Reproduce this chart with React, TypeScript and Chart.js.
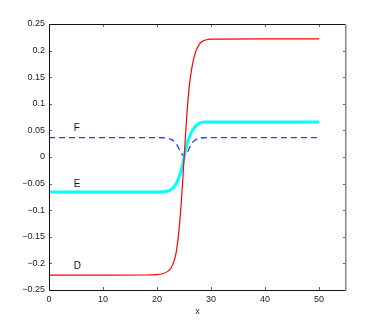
import React, { useEffect, useRef } from 'react';
import { Chart, registerables } from 'chart.js';

Chart.register(...registerables);

// Curve D (red)
const xD = [0, 10, 18, 20, 21, 22, 22.5, 23, 23.5, 24, 24.5, 25, 25.5, 26, 26.5, 27, 27.5, 28, 28.5, 29, 30, 40, 50];
const yD = [-0.222, -0.222, -0.2218, -0.221, -0.2195, -0.215, -0.21, -0.2, -0.182, -0.145, -0.085, -0.005, 0.075, 0.135, 0.17, 0.193, 0.206, 0.214, 0.218, 0.22, 0.2215, 0.222, 0.222];

// Curve E (cyan)
const xE = [0, 10, 20, 21, 22, 22.5, 23, 23.5, 24, 24.5, 25, 25.5, 26, 26.5, 27, 27.5, 28, 28.5, 29, 30, 40, 50];
const yE = [-0.066, -0.066, -0.066, -0.0655, -0.064, -0.062, -0.058, -0.051, -0.04, -0.024, -0.002, 0.022, 0.038, 0.049, 0.056, 0.061, 0.064, 0.0652, 0.0657, 0.066, 0.066, 0.066];

// Curve F (blue dashed)
const xF = [0, 10, 20, 21, 22, 22.5, 23, 23.5, 24, 24.5, 25, 25.5, 26, 26.5, 27, 27.5, 28, 29, 30, 40, 50];
const yF = [0.0366, 0.0366, 0.0366, 0.0362, 0.035, 0.0335, 0.031, 0.0255, 0.017, 0.0075, 0.0015, 0.006, 0.017, 0.026, 0.0315, 0.034, 0.0355, 0.0363, 0.0366, 0.0366, 0.0366];

const xTicks = [0, 10, 20, 30, 40, 50];
const xTickLabels = ['0', '10', '20', '30', '40', '50'];
const yTicks = [-0.25, -0.2, -0.15, -0.1, -0.05, 0, 0.05, 0.1, 0.15, 0.2, 0.25];
const yTickLabels = ['\u22120.25', '\u22120.2', '\u22120.15', '\u22120.1', '\u22120.05', '0', '0.05', '0.1', '0.15', '0.2', '0.25'];

const curveNames = ['D', 'E', 'F'];
const curveNameX = [4.6, 4.6, 4.6];
const curveNameY = [-0.205, -0.052, 0.054];

const FONT = '"Liberation Sans", Arial, Helvetica, sans-serif';

const toPoints = (xs: number[], ys: number[]) => xs.map((x, i) => ({ x, y: ys[i] }));

const framePlugin = {
  id: 'matlabFrame',
  afterDraw(chart: any) {
    const { ctx, chartArea, scales } = chart;
    const { left, right, top, bottom } = chartArea;
    const xs = scales.x;
    const ys = scales.y;
    ctx.save();
    // inward ticks
    ctx.strokeStyle = '#666';
    ctx.lineWidth = 1;
    ctx.beginPath();
    for (const v of xTicks) {
      const px = Math.round(xs.getPixelForValue(v)) + 0.5;
      ctx.moveTo(px, bottom);
      ctx.lineTo(px, bottom - 3);
      ctx.moveTo(px, top);
      ctx.lineTo(px, top + 3);
    }
    for (const v of yTicks) {
      const py = Math.round(ys.getPixelForValue(v)) + 0.5;
      ctx.moveTo(left, py);
      ctx.lineTo(left + 3, py);
      ctx.moveTo(right, py);
      ctx.lineTo(right - 3, py);
    }
    ctx.stroke();
    // frame
    ctx.strokeStyle = '#111';
    ctx.beginPath();
    ctx.moveTo(left + 0.5, top + 0.5);
    ctx.lineTo(right - 0.5, top + 0.5);
    ctx.moveTo(left + 0.5, top + 0.5);
    ctx.lineTo(left + 0.5, bottom + 0.5);
    ctx.lineTo(right - 0.5, bottom + 0.5);
    ctx.stroke();
    ctx.strokeStyle = '#888';
    ctx.lineWidth = 1.5;
    ctx.beginPath();
    ctx.moveTo(right - 0.25, top);
    ctx.lineTo(right - 0.25, bottom + 1);
    ctx.stroke();
    // curve names
    ctx.fillStyle = '#111';
    ctx.font = `10px ${FONT}`;
    ctx.textAlign = 'left';
    ctx.textBaseline = 'middle';
    curveNames.forEach((n, i) => {
      ctx.fillText(n, xs.getPixelForValue(curveNameX[i]), ys.getPixelForValue(curveNameY[i]));
    });
    ctx.restore();
  },
};

export default function App() {
  const ref = useRef<HTMLCanvasElement | null>(null);

  useEffect(() => {
    document.body.style.margin = '0';
    const canvas = ref.current;
    if (!canvas) return;
    const chart = new Chart(canvas, {
      type: 'line',
      data: {
        datasets: [
          {
            label: 'D',
            data: toPoints(xD, yD),
            borderColor: '#ff0000',
            borderWidth: 1.2,
            pointRadius: 0,
            cubicInterpolationMode: 'monotone',
            fill: false,
          },
          {
            label: 'E',
            data: toPoints(xE, yE),
            borderColor: '#00ffff',
            borderWidth: 3,
            pointRadius: 0,
            cubicInterpolationMode: 'monotone',
            fill: false,
          },
          {
            label: 'F',
            data: toPoints(xF, yF),
            borderColor: '#3333ff',
            borderWidth: 1.3,
            borderDash: [6, 4],
            pointRadius: 0,
            cubicInterpolationMode: 'monotone',
            fill: false,
          },
        ],
      },
      options: {
        responsive: false,
        animation: false,
        events: [],
        layout: { padding: { top: 24, right: 36, left: 0, bottom: 0 } },
        plugins: {
          legend: { display: false },
          tooltip: { enabled: false },
        },
        scales: {
          x: {
            type: 'linear',
            min: 0,
            max: 55,
            grid: { display: false, drawTicks: false },
            border: { display: false },
            afterFit: (s: any) => {
              s.height = 37;
            },
            afterBuildTicks: (s: any) => {
              s.ticks = xTicks.map((v) => ({ value: v }));
            },
            ticks: {
              padding: 4,
              maxRotation: 0,
              autoSkip: false,
              color: '#222',
              font: { family: FONT, size: 9 },
              callback: (_v: any, i: number) => xTickLabels[i],
            },
            title: {
              display: true,
              text: 'x',
              color: '#222',
              font: { family: FONT, size: 9 },
              padding: { top: 0, bottom: 10 },
            },
          },
          y: {
            type: 'linear',
            min: -0.25,
            max: 0.25,
            grid: { display: false, drawTicks: false },
            border: { display: false },
            afterFit: (s: any) => {
              s.width = 49;
            },
            afterBuildTicks: (s: any) => {
              s.ticks = yTicks.map((v) => ({ value: v }));
            },
            ticks: {
              padding: 4,
              autoSkip: false,
              color: '#222',
              font: { family: FONT, size: 9 },
              callback: (_v: any, i: number) => yTickLabels[i],
            },
          },
        },
      },
      plugins: [framePlugin],
    } as any);
    return () => chart.destroy();
  }, []);

  return (
    <div style={{ width: 382, height: 327, background: '#fff' }}>
      <canvas ref={ref} width={382} height={327} style={{ display: 'block' }} />
    </div>
  );
}
